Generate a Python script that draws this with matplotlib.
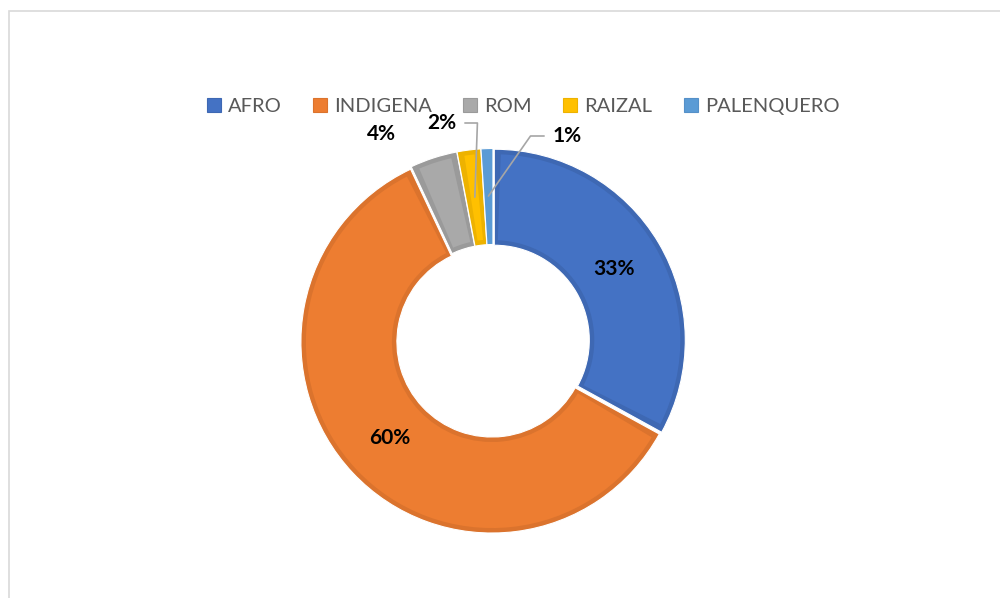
import matplotlib
matplotlib.use("Agg")
import numpy as np
import matplotlib.pyplot as plt
from matplotlib.patches import Patch, Rectangle, Wedge

# data
categories = ["AFRO", "INDIGENA", "ROM", "RAIZAL", "PALENQUERO"]
values = [33, 60, 4, 2, 1]
pct_labels = ["33%", "60%", "4%", "2%", "1%"]

colors = ["#4472C4", "#ED7D31", "#A9A9A9", "#FFC000", "#5B9BD5"]
edges = ["#3E68B3", "#DB732D", "#9A9A9A", "#EDB200", "#5590C8"]

fig = plt.figure(figsize=(10, 5.98), dpi=100)
ax = fig.add_axes([0, 0, 1, 1])

cx, cy = 493, 598 - 341
R, W = 191, 96
b = 5  # darker rim thickness in px

# outer (darker) ring from the pie, lighter inner panel on top
wedges, _ = ax.pie(values, colors=edges, startangle=90, counterclock=False,
                   center=(cx, cy), radius=R, explode=[1.5] * 5,
                   wedgeprops=dict(width=W, edgecolor="white", linewidth=0.8),
                   frame=True)
for w, c in zip(wedges, colors):
    rm = R - W / 2
    d = np.rad2deg(b / rm)
    if (w.theta2 - w.theta1) > 3 * d:
        ax.add_patch(Wedge(w.center, w.r - b, w.theta1 + d, w.theta2 - d,
                           width=w.width - 2 * b, facecolor=c, linewidth=0))
    else:
        w.set_facecolor(c)

ax.set_xlim(0, 1000)
ax.set_ylim(0, 598)
ax.set_aspect("equal")
ax.axis("off")

mids = [np.deg2rad((w.theta1 + w.theta2) / 2) for w in wedges]

lab_font = dict(fontsize=15, fontweight="bold", color="black",
                family=["Lato", "DejaVu Sans"], ha="center", va="center")
r_in = 141
for i in (0, 1):
    ax.text(cx + r_in * np.cos(mids[i]), cy + r_in * np.sin(mids[i]),
            pct_labels[i], **lab_font)

# ROM label, no leader line
ax.text(381, 598 - 134, pct_labels[2], **lab_font)

line_kw = dict(arrowstyle="-", color="#A6A6A6", lw=1.2, shrinkA=4, shrinkB=0)
r_pt = 145
ax.annotate(pct_labels[3],
            xy=(cx + r_pt * np.cos(mids[3]), cy + r_pt * np.sin(mids[3])),
            xytext=(442, 598 - 123),
            arrowprops=dict(connectionstyle="angle,angleA=0,angleB=88", **line_kw),
            **lab_font)
ax.annotate(pct_labels[4],
            xy=(cx + r_pt * np.cos(mids[4]), cy + r_pt * np.sin(mids[4])),
            xytext=(567, 598 - 136),
            arrowprops=dict(connectionstyle="angle,angleA=0,angleB=55", **line_kw),
            **lab_font)

handles = [Patch(facecolor=c, edgecolor=e, linewidth=0.8)
           for c, e in zip(colors, edges)]
fig.legend(handles, categories, loc="center", bbox_to_anchor=(0.523, 0.822),
           ncol=5, frameon=False, handlelength=0.7, handleheight=0.7,
           handletextpad=0.35, columnspacing=1.55,
           prop=dict(family=["Lato", "DejaVu Sans"], size=14.5),
           labelcolor="#595959")

fig.patches.append(Rectangle((0.009, -0.2), 1.5, 1.2 - 11 / 598,
                             transform=fig.transFigure, fill=False,
                             edgecolor="#D9D9D9", linewidth=1.2))

fig.savefig("out.png", dpi=100, facecolor="white")
